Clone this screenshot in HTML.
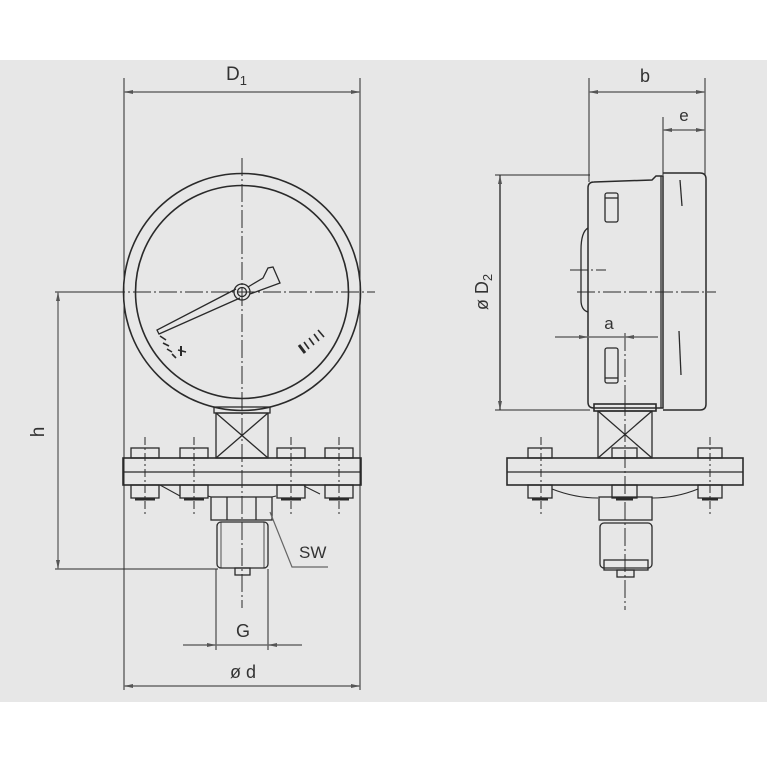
<!DOCTYPE html>
<html><head><meta charset="utf-8"><style>
html,body{margin:0;padding:0;background:#fff;}
svg{display:block;}
text{font-family:"Liberation Sans",sans-serif;fill:#333;}
</style></head><body>
<svg width="767" height="767" viewBox="0 0 767 767" xmlns="http://www.w3.org/2000/svg">
<defs>
<marker id="ar" markerWidth="10" markerHeight="6" refX="9" refY="3" orient="auto-start-reverse" markerUnits="userSpaceOnUse">
<path d="M0,1 L9,3 L0,5 Z" fill="#555"/></marker>
</defs>
<rect x="0" y="60" width="767" height="642" fill="#e7e7e7"/>

<g fill="none" stroke="#2a2a2a" stroke-width="1.3">
<!-- LEFT VIEW -->
<!-- ext lines -->
<line x1="124" y1="78" x2="124" y2="690" stroke-width="1"/>
<line x1="360" y1="78" x2="360" y2="690" stroke-width="1"/>
<line x1="55" y1="292" x2="124" y2="292" stroke-width="1"/>
<line x1="55" y1="569" x2="218" y2="569" stroke-width="1"/>
<line x1="216" y1="569" x2="216" y2="650" stroke-width="1"/>
<line x1="268" y1="569" x2="268" y2="650" stroke-width="1"/>
<!-- gauge -->
<circle cx="242" cy="292" r="118.5" stroke-width="1.6"/>
<circle cx="242" cy="292" r="106.5" stroke-width="1.6"/>
<circle cx="242" cy="292" r="8" />
<circle cx="242" cy="292" r="4.5" />
<!-- pointer -->
<path d="M236,289 L157,330 L159,334 L240,298" stroke-width="1.3"/>
<path d="M248,287 L263,278 L268,268 L273,267 L280,283 L250,294" stroke-width="1.3"/>
<!-- scale marks -->
<g stroke-width="1.6">
<line x1="160" y1="336" x2="166" y2="340"/><line x1="163" y1="343" x2="169" y2="346"/><line x1="167" y1="349" x2="172" y2="352"/><line x1="172" y1="354" x2="176" y2="358"/>
<line x1="178" y1="350" x2="186" y2="352"/><line x1="181" y1="346" x2="181" y2="356" stroke-width="2"/>
<line x1="299" y1="345" x2="305" y2="353" stroke-width="3"/>
<line x1="304" y1="342" x2="309" y2="349"/><line x1="309" y1="338" x2="314" y2="345"/><line x1="314" y1="334" x2="319" y2="341"/><line x1="318" y1="330" x2="324" y2="337"/>
</g>
<!-- centerlines -->
<g stroke-width="1" stroke-dasharray="18,3,2,3">
<line x1="55" y1="292" x2="375" y2="292"/>
<line x1="242" y1="158" x2="242" y2="608"/>
</g>
<!-- stem -->
<rect x="214" y="407" width="56" height="6"/>
<rect x="216" y="413" width="52" height="45"/>
<line x1="216" y1="413" x2="268" y2="458"/><line x1="268" y1="413" x2="216" y2="458"/>
<!-- flange -->
<rect x="123" y="458" width="238" height="27" stroke-width="1.6"/>
<line x1="123" y1="472" x2="361" y2="472"/>
<!-- bolts -->
<g>
<rect x="131" y="448" width="28" height="10"/><rect x="180" y="448" width="28" height="10"/><rect x="277" y="448" width="28" height="10"/><rect x="325" y="448" width="28" height="10"/>
<rect x="131" y="485" width="28" height="13"/><rect x="180" y="485" width="28" height="13"/><rect x="277" y="485" width="28" height="13"/><rect x="325" y="485" width="28" height="13"/>
<g stroke-width="3"><line x1="135" y1="499" x2="155" y2="499"/><line x1="184" y1="499" x2="204" y2="499"/><line x1="281" y1="499" x2="301" y2="499"/><line x1="329" y1="499" x2="349" y2="499"/></g>
</g>
<g stroke-width="1" stroke-dasharray="8,3,2,3">
<line x1="145" y1="437" x2="145" y2="514"/><line x1="194" y1="437" x2="194" y2="514"/><line x1="291" y1="437" x2="291" y2="514"/><line x1="339" y1="437" x2="339" y2="514"/>
</g>
<path d="M160,485 L180,496 M208,496 L211,497 L272,497 L276,496 M304,486 L320,494" stroke-width="1"/>
<!-- lower body -->
<rect x="211" y="497" width="61" height="23"/>
<line x1="227" y1="497" x2="227" y2="520"/><line x1="256" y1="497" x2="256" y2="520"/>
<rect x="217" y="522" width="51" height="46" rx="4"/>
<line x1="221" y1="522" x2="221" y2="568" stroke-width="0.8"/><line x1="264" y1="522" x2="264" y2="568" stroke-width="0.8"/>
<rect x="235" y="568" width="15" height="7"/>
<!-- SW leader -->
<path d="M270,512 L292,567 L328,567" stroke="#666" stroke-width="1.2"/>

<!-- RIGHT VIEW -->
<line x1="589" y1="78" x2="589" y2="182" stroke-width="1"/>
<line x1="705" y1="78" x2="705" y2="175" stroke-width="1"/>
<line x1="663" y1="117" x2="663" y2="175" stroke-width="1"/>
<line x1="495" y1="175" x2="590" y2="175" stroke-width="1"/>
<line x1="495" y1="410" x2="590" y2="410" stroke-width="1"/>
<!-- case -->
<path d="M588,188 Q588,182 594,182 L652,180 L656,176 L663,176 L663,408 L594,408 Q588,408 588,402 Z" stroke-width="1.5"/>
<path d="M663,173 L700,173 Q706,173 706,179 L706,404 Q706,410 700,410 L663,410" stroke-width="1.5"/>
<line x1="661" y1="176" x2="661" y2="408"/>
<line x1="680" y1="180" x2="682" y2="206"/><line x1="679" y1="331" x2="681" y2="375"/>
<rect x="605" y="193" width="13" height="29" rx="2"/><line x1="605" y1="198" x2="618" y2="198"/>
<rect x="605" y="348" width="13" height="35" rx="2"/><line x1="605" y1="378" x2="618" y2="378"/>
<path d="M588,228 Q581,232 581,250 L581,300 Q581,310 588,312"/>
<g stroke-width="1" stroke-dasharray="18,3,2,3">
<line x1="577" y1="292" x2="716" y2="292"/>
<line x1="570" y1="270" x2="606" y2="270"/>
<line x1="625" y1="333" x2="625" y2="398"/>
<line x1="625" y1="398" x2="625" y2="610"/>
</g>
<!-- stem -->
<rect x="594" y="404" width="62" height="7" stroke-width="1.6"/>
<rect x="598" y="411" width="54" height="47"/>
<line x1="598" y1="411" x2="652" y2="458"/><line x1="652" y1="411" x2="598" y2="458"/>
<rect x="507" y="458" width="236" height="27" stroke-width="1.6"/>
<line x1="507" y1="472" x2="743" y2="472"/>
<rect x="528" y="448" width="24" height="10"/><rect x="612" y="448" width="25" height="10"/><rect x="698" y="448" width="24" height="10"/>
<rect x="528" y="485" width="24" height="13"/><rect x="612" y="485" width="25" height="13"/><rect x="698" y="485" width="24" height="13"/>
<g stroke-width="3"><line x1="532" y1="499" x2="548" y2="499"/><line x1="616" y1="499" x2="633" y2="499"/><line x1="702" y1="499" x2="718" y2="499"/></g>
<g stroke-width="1" stroke-dasharray="8,3,2,3">
<line x1="541" y1="437" x2="541" y2="514"/><line x1="710" y1="437" x2="710" y2="514"/>
</g>
<path d="M552,489 Q575,498 598,498 M652,498 Q676,498 698,489" stroke-width="1"/>
<rect x="599" y="497" width="53" height="23"/>
<rect x="600" y="523" width="52" height="45" rx="4"/>
<rect x="604" y="560" width="44" height="10"/>
<rect x="617" y="570" width="17" height="7"/>
</g>

<!-- dimension lines -->
<g stroke="#6a6a6a" stroke-width="1.4" fill="none">
<line x1="124" y1="92" x2="360" y2="92" marker-start="url(#ar)" marker-end="url(#ar)"/>
<line x1="124" y1="686" x2="360" y2="686" marker-start="url(#ar)" marker-end="url(#ar)"/>
<line x1="58" y1="292" x2="58" y2="569" marker-start="url(#ar)" marker-end="url(#ar)"/>
<line x1="183" y1="645" x2="216" y2="645" marker-end="url(#ar)"/>
<line x1="302" y1="645" x2="268" y2="645" marker-end="url(#ar)"/>
<line x1="216" y1="645" x2="268" y2="645"/>
<line x1="589" y1="92" x2="705" y2="92" marker-start="url(#ar)" marker-end="url(#ar)"/>
<line x1="663" y1="130" x2="705" y2="130" marker-start="url(#ar)" marker-end="url(#ar)"/>
<line x1="500" y1="175" x2="500" y2="410" marker-start="url(#ar)" marker-end="url(#ar)" stroke="#333"/>
<line x1="555" y1="337" x2="588" y2="337" marker-end="url(#ar)"/>
<line x1="658" y1="337" x2="625" y2="337" marker-end="url(#ar)"/>
<line x1="588" y1="337" x2="625" y2="337"/>
</g>

<!-- labels -->
<text x="226" y="80" font-size="19">D<tspan font-size="13" dy="5">1</tspan></text>
<text x="44" y="432" font-size="19" transform="rotate(-90 44 432)" text-anchor="middle">h</text>
<text x="299" y="558" font-size="17">SW</text>
<text x="243" y="637" font-size="18" text-anchor="middle">G</text>
<text x="243" y="678" font-size="18" text-anchor="middle">ø d</text>
<text x="645" y="82" font-size="18" text-anchor="middle">b</text>
<text x="684" y="121" font-size="17" text-anchor="middle">e</text>
<text x="488" y="292" font-size="18" transform="rotate(-90 488 292)" text-anchor="middle">ø D<tspan font-size="13" dy="4">2</tspan></text>
<text x="609" y="329" font-size="17" text-anchor="middle">a</text>
</svg>
</body></html>
